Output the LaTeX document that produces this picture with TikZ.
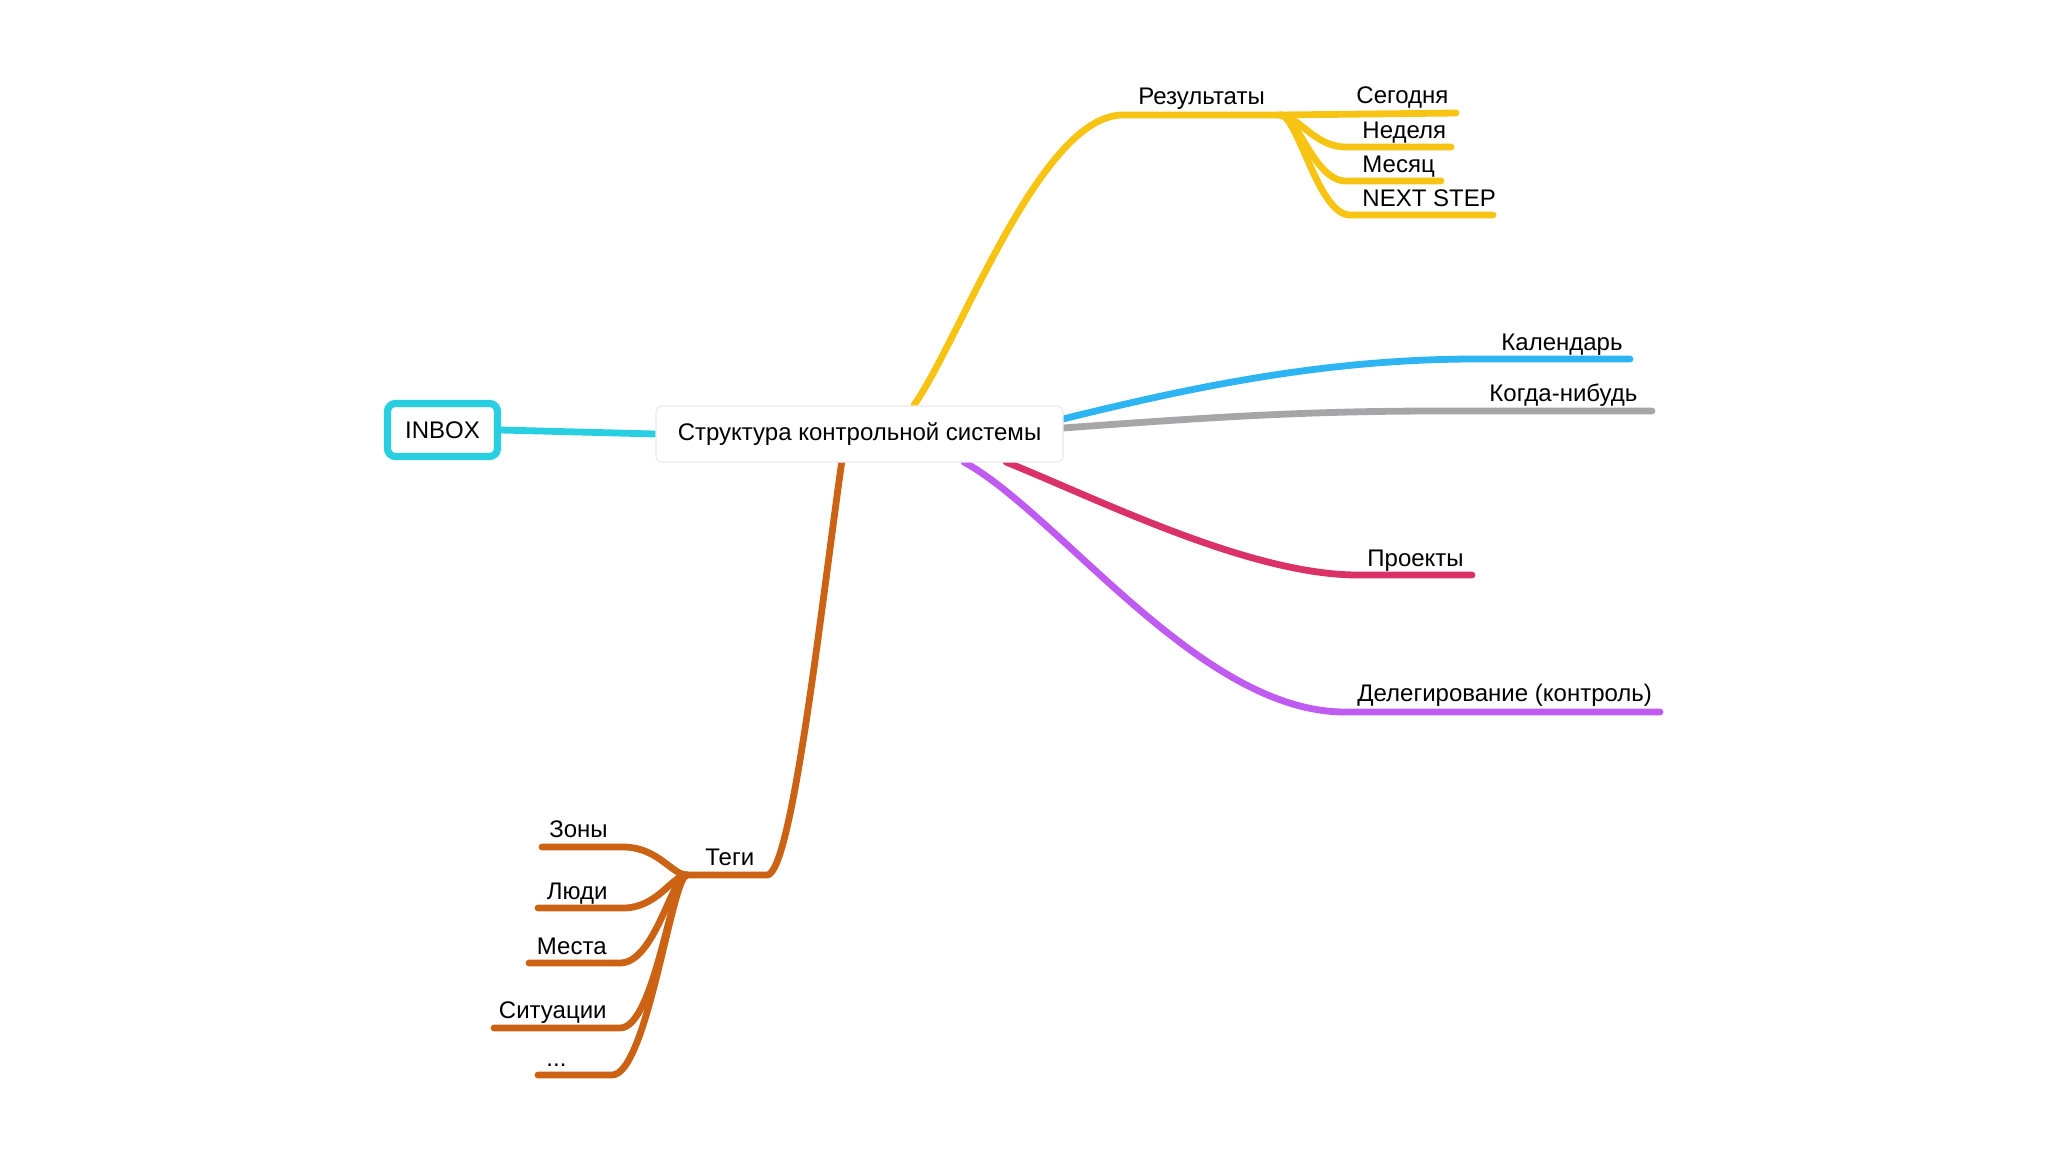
\documentclass[tikz,border=0pt]{standalone}
\usepackage{fontspec}
\setmainfont{Liberation Sans}
\pgfdeclarelayer{back}
\pgfdeclarelayer{bg}
\pgfsetlayers{back,bg,main}
\definecolor{cInbox}{HTML}{28CFE0}
\definecolor{cYel}{HTML}{F8C414}
\definecolor{cBlue}{HTML}{2DB4F2}
\definecolor{cGrey}{HTML}{A6A6A8}
\definecolor{cRed}{HTML}{DA3166}
\definecolor{cPurp}{HTML}{BF5BF0}
\definecolor{cBrown}{HTML}{CB6214}
\begin{document}
\begin{tikzpicture}[x=0.5pt,y=-0.5pt,
  every node/.style={font=\fontsize{12}{14}\selectfont, inner sep=0pt, text=black},
  branch/.style={line width=3.4pt, line cap=round, line join=round},
  lblW/.style={anchor=base west},
  lblE/.style={anchor=base east}]
\begin{pgfonlayer}{back}
\fill[white] (0,0) rectangle (2048,1152);
\end{pgfonlayer}
\useasboundingbox (0,0) rectangle (2048,1152);

% main nodes
\node[draw=black!8, line width=0.6pt, fill=white, rounded corners=3pt,
      minimum width=203.5pt, minimum height=28pt, text depth=2pt, text height=8.6pt] (center) at (859.5,434) {Структура контрольной системы};
\node[draw=cInbox, line width=3.6pt, fill=white, rounded corners=4pt,
      minimum width=55pt, minimum height=26.5pt] (inbox) at (442.5,430) {INBOX};

% labels
\node[lblW] (res) at (1138,104) {Результаты};
\node[lblW] (today) at (1356,103) {Сегодня};
\node[lblW] (week) at (1362,138) {Неделя};
\node[lblW] (month) at (1362,172) {Месяц};
\node[lblW] (next) at (1362,206) {NEXT STEP};
\node[lblW] (cal) at (1501,350) {Календарь};
\node[lblW] (some) at (1489,401) {Когда-нибудь};
\node[lblW] (proj) at (1367,566) {Проекты};
\node[lblW] (deleg) at (1357,701) {Делегирование (контроль)};
\node[lblW] (tags) at (705,865) {Теги};
\node[lblE] (zones) at (608,837) {Зоны};
\node[lblE] (people) at (608,899) {Люди};
\node[lblE] (places) at (607,954) {Места};
\node[lblE] (situ) at (607,1018) {Ситуации};
\node[lblW] (dots) at (546,1066) {...};

% coordinates
\coordinate (yS) at (914,405);
\coordinate (yT) at (1123,115);
\coordinate (yJ) at (1280,115);
\coordinate (todayE) at (1456,113);
\coordinate (weekS) at (1346,147);
\coordinate (weekE) at (1451,147);
\coordinate (monthS) at (1346,181);
\coordinate (monthE) at (1441,181);
\coordinate (nextS) at (1350,215);
\coordinate (nextE) at (1493,215);
\coordinate (bS) at (1063,419);
\coordinate (bT) at (1476,359);
\coordinate (bE) at (1630,359);
\coordinate (gS) at (1063,428);
\coordinate (gT) at (1437,411);
\coordinate (gE) at (1652,411);
\coordinate (rS) at (1006,462);
\coordinate (rT) at (1358,575);
\coordinate (rE) at (1472,575);
\coordinate (pS) at (964,462);
\coordinate (pT) at (1345,712);
\coordinate (pE) at (1660,712);
\coordinate (tS) at (842,460);
\coordinate (tT) at (767,875);
\coordinate (tJ) at (687,875);
\coordinate (zE) at (623,847);
\coordinate (zS) at (542,847);
\coordinate (lE) at (623,908);
\coordinate (lS) at (538,908);
\coordinate (mE) at (620,963);
\coordinate (mS) at (529,963);
\coordinate (sE) at (620,1028);
\coordinate (sS) at (494,1028);
\coordinate (dE) at (612,1075);
\coordinate (dS) at (538,1075);

\begin{pgfonlayer}{bg}
\draw[branch, cInbox] (inbox.east) -- (center.west);
% yellow
\draw[branch, cYel] (yS) .. controls (960,340) and (1040,115) .. (yT) -- (yJ);
\draw[branch, cYel] (yJ) -- (todayE);
\draw[branch, cYel] (yJ) .. controls +(18,0) and +(-32,0) .. (weekS) -- (weekE);
\draw[branch, cYel] (yJ) .. controls +(18,0) and +(-32,0) .. (monthS) -- (monthE);
\draw[branch, cYel] (yJ) .. controls +(18,0) and +(-32,0) .. (nextS) -- (nextE);
% blue, grey, red, purple
\draw[branch, cBlue] (bS) .. controls (1200,385) and (1330,359) .. (bT) -- (bE);
\draw[branch, cGrey] (gS) .. controls (1200,418) and (1300,411) .. (gT) -- (gE);
\draw[branch, cRed] (rS) .. controls (1100,500) and (1250,575) .. (rT) -- (rE);
\draw[branch, cPurp] (pS) .. controls (1060,515) and (1200,712) .. (pT) -- (pE);
% brown
\draw[branch, cBrown] (tS) .. controls (822,600) and (792,875) .. (tT) -- (tJ);
\draw[branch, cBrown] (tJ) .. controls +(-15,0) and +(35,0) .. (zE) -- (zS);
\draw[branch, cBrown] (tJ) .. controls +(-15,0) and +(35,0) .. (lE) -- (lS);
\draw[branch, cBrown] (tJ) .. controls +(-15,0) and +(35,0) .. (mE) -- (mS);
\draw[branch, cBrown] (tJ) .. controls +(-15,0) and +(35,0) .. (sE) -- (sS);
\draw[branch, cBrown] (tJ) .. controls +(-15,0) and +(35,0) .. (dE) -- (dS);
\end{pgfonlayer}
\end{tikzpicture}
\end{document}
